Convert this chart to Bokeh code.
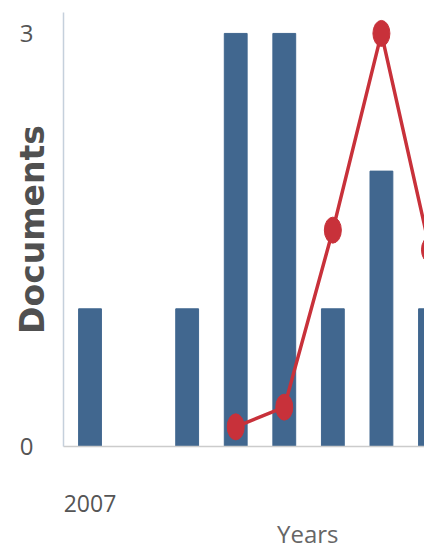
from bokeh.plotting import figure
from bokeh.models import Range1d, FixedTicker, Title, ColumnDataSource
from bokeh.embed import file_html
from bokeh.resources import INLINE

# ---- data ----
years = [2007, 2008, 2009, 2010, 2011, 2012, 2013, 2014]
documents = [1, 0, 1, 3, 3, 1, 2, 1]
line_years = [2010, 2011, 2012, 2013, 2014]
citations = [1, 2, 11, 21, 10]
y_ticks = [0, 3]
x_ticks = [2007]
x_title = "Years"
y_title = "Documents"

BAR_COLOR = "#41678f"
LINE_COLOR = "#c8313a"

X_START, X_END = 2006.454, 2013.887
Y_END = 3.152

p = figure(width=424, height=550, output_backend="svg", toolbar_location=None,
           x_range=Range1d(X_START, X_END), y_range=Range1d(0, Y_END),
           min_border_left=63, min_border_right=0, min_border_top=12,
           min_border_bottom=104)
p.extra_y_ranges = {"cit": Range1d(0, 21 * Y_END / 3)}
p.outline_line_color = None
p.grid.grid_line_color = None
p.background_fill_color = "white"
p.border_fill_color = "white"

src = ColumnDataSource(dict(year=years, docs=documents))
p.vbar(x="year", top="docs", width=0.47, color=BAR_COLOR, source=src)

lsrc = ColumnDataSource(dict(year=line_years, cit=citations))
p.line(x="year", y="cit", line_color=LINE_COLOR, line_width=3.5,
       y_range_name="cit", source=lsrc)
p.ellipse(x="year", y="cit", width=17, height=26, width_units="screen",
          height_units="screen", fill_color=LINE_COLOR, line_color=LINE_COLOR,
          y_range_name="cit", source=lsrc)

# axes
yax = p.yaxis[0]
yax.ticker = FixedTicker(ticks=y_ticks)
yax.major_tick_line_color = None
yax.minor_tick_line_color = None
yax.axis_line_color = "#c5d0dc"
yax.axis_line_width = 1.5
yax.major_label_standoff = 24
yax.major_label_text_font = "Open Sans"
yax.major_label_text_font_size = "24px"
yax.major_label_text_color = "#555555"
yax.axis_label = y_title
yax.axis_label_standoff = -35
yax.axis_label_text_font = "DejaVu Sans"
yax.axis_label_text_font_style = "bold"
yax.axis_label_text_font_size = "33px"
yax.axis_label_text_color = "#505050"

xax = p.xaxis[0]
xax.ticker = FixedTicker(ticks=x_ticks)
xax.major_tick_line_color = None
xax.minor_tick_line_color = None
xax.axis_line_color = "#cccccc"
xax.axis_line_width = 1.5
xax.major_label_standoff = 42
xax.major_label_text_font = "Open Sans"
xax.major_label_text_font_size = "23px"
xax.major_label_text_color = "#555555"

p.add_layout(Title(text=x_title, align="right", offset=86,
                   text_font="Open Sans", text_font_size="24px",
                   text_font_style="normal", text_color="#666666",
                   standoff=0), "below")

open("out.html", "w").write(file_html(p, INLINE))
